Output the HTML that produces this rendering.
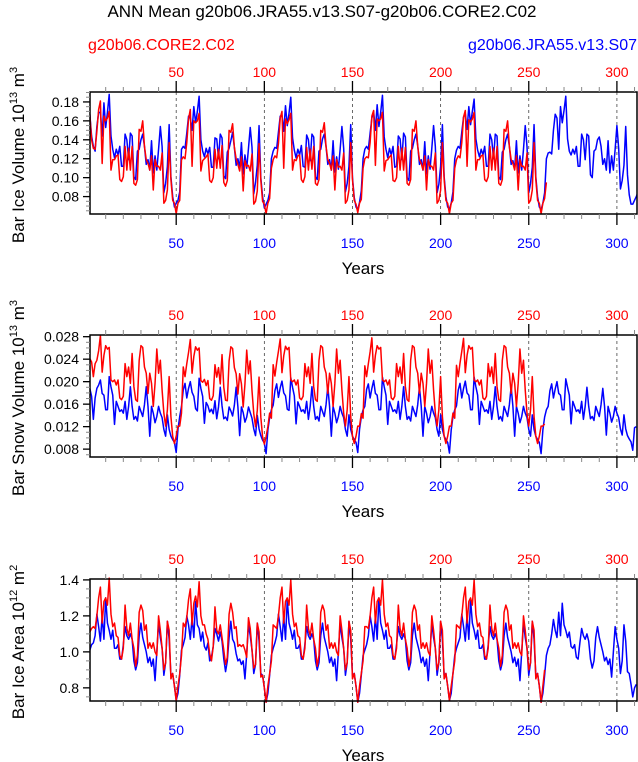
<!DOCTYPE html>
<html><head><meta charset="utf-8">
<style>
html,body{margin:0;padding:0;background:#fff;}
svg{display:block;font-family:"Liberation Sans",sans-serif;}
</style></head>
<body>
<svg id="chart" width="638" height="762" viewBox="0 0 638 762" xmlns="http://www.w3.org/2000/svg">
<text x="322" y="17" text-anchor="middle" font-size="17">ANN Mean g20b06.JRA55.v13.S07-g20b06.CORE2.C02</text>
<text x="88" y="50" font-size="16" fill="#ff0000">g20b06.CORE2.C02</text>
<text x="637" y="50" text-anchor="end" font-size="16" fill="#0000ff">g20b06.JRA55.v13.S07</text>
</svg>
<script>
// ---- data ----
const iceBlue = [
.167,.144,.133,.128,.154,.169,.169,.144,.179,.153,.169,.188,.144,.130,.121,.130,.124,.133,.112,.112,.146,.140,.119,.147,.144,.101,.098,.128,.130,.140,.146,.133,.114,.119,.108,.139,.105,.123,.108,.130,.154,.133,.084,.094,.112,.156,.101,.080,.069,.073,.076,
.085,.130,.133,.131,.147,.165,.163,.150,.175,.158,.170,.186,.140,.128,.122,.131,.125,.132,.111,.111,.142,.141,.120,.146,.142,.102,.099,.127,.131,.139,.148,.132,.113,.120,.110,.137,.104,.124,.110,.131,.153,.132,.083,.095,.113,.155,.100,.080,.068,.072,.076,.084,.120,
.128,.132,.131,.148,.165,.166,.149,.176,.155,.168,.185,.142,.129,.121,.130,.124,.134,.112,.111,.145,.140,.118,.146,.143,.101,.098,.128,.130,.141,.146,.133,.114,.119,.108,.139,.106,.122,.109,.130,.154,.131,.085,.094,.112,.156,.100,.079,.069,.066,.074,.086,.120,
.130,.133,.130,.147,.163,.170,.150,.177,.154,.169,.187,.143,.130,.121,.131,.124,.133,.111,.112,.144,.141,.119,.147,.143,.100,.097,.128,.131,.140,.146,.134,.114,.119,.108,.138,.104,.123,.109,.131,.155,.133,.084,.093,.112,.156,.101,.080,.069,.067,.073,.085,.120,
.129,.133,.131,.148,.164,.168,.151,.175,.156,.170,.183,.141,.129,.122,.130,.124,.133,.112,.112,.146,.140,.120,.146,.144,.101,.098,.127,.130,.140,.146,.133,.114,.118,.109,.139,.105,.123,.108,.130,.155,.133,.084,.094,.111,.156,.101,.080,.069,.066,.073,.084,.120,
.126,.127,.125,.150,.167,.163,.130,.175,.158,.171,.186,.141,.128,.124,.130,.125,.133,.112,.112,.146,.140,.119,.146,.144,.103,.100,.128,.130,.140,.143,.133,.114,.120,.108,.139,.105,.123,.108,.130,.155,.131,.088,.097,.113,.154,.103,.082,.072,.072,.076,.080,.085
];
const iceRed = [
.167,.140,.131,.130,.149,.172,.181,.115,.165,.160,.163,.170,.108,.119,.119,.123,.124,.098,.096,.101,.133,.108,.131,.108,.133,.094,.092,.098,.151,.149,.160,.133,.119,.115,.108,.123,.087,.119,.112,.112,.108,.126,.073,.076,.087,.137,.098,.076,.073,.062,.073,
.076,.119,.122,.120,.137,.162,.172,.112,.160,.158,.160,.168,.107,.118,.120,.122,.125,.097,.095,.100,.130,.110,.130,.110,.134,.095,.091,.097,.150,.148,.157,.132,.120,.114,.107,.122,.086,.118,.112,.113,.107,.125,.072,.075,.086,.136,.097,.075,.072,.062,.073,.078,.110,
.119,.123,.121,.136,.163,.170,.110,.162,.157,.161,.168,.108,.119,.118,.123,.124,.098,.095,.101,.132,.108,.130,.109,.133,.094,.092,.098,.150,.148,.158,.133,.119,.115,.108,.123,.087,.119,.111,.112,.108,.126,.073,.076,.087,.137,.098,.076,.072,.063,.073,.077,.110,
.120,.122,.121,.137,.165,.171,.113,.162,.160,.162,.169,.107,.118,.119,.122,.124,.097,.096,.100,.133,.108,.131,.108,.132,.094,.092,.098,.151,.149,.160,.133,.119,.115,.108,.123,.087,.119,.112,.112,.108,.126,.073,.076,.087,.137,.098,.076,.073,.062,.073,.076,.110,
.119,.123,.121,.137,.164,.171,.112,.161,.159,.162,.169,.108,.119,.119,.123,.124,.098,.096,.101,.133,.108,.131,.108,.133,.094,.092,.098,.151,.149,.160,.133,.119,.115,.108,.123,.087,.119,.112,.112,.108,.126,.073,.076,.087,.137,.098,.076,.073,.062,.073,.078,.095
];
const snowBlue = [
.0188,.0174,.0133,.0171,.0188,.0194,.0203,.0179,.0176,.0150,.0150,.0209,.0191,.0176,.0124,.0165,.0156,.0147,.0150,.0144,.0165,.0133,.0156,.0191,.0156,.0133,.0138,.0130,.0156,.0147,.0138,.0159,.0191,.0156,.0103,.0156,.0144,.0127,.0138,.0156,.0144,.0136,.0115,.0103,.0141,.0115,.0103,.0097,.0092,.0074,.0115,
.0138,.0156,.0185,.0197,.0171,.0188,.0200,.0181,.0174,.0152,.0148,.0206,.0188,.0174,.0126,.0163,.0157,.0146,.0151,.0143,.0166,.0134,.0155,.0190,.0157,.0134,.0137,.0131,.0155,.0148,.0139,.0158,.0190,.0155,.0104,.0155,.0145,.0128,.0137,.0155,.0145,.0135,.0116,.0104,.0140,.0116,.0104,.0096,.0091,.0072,.0114,.0136,.0150,
.0158,.0184,.0196,.0172,.0189,.0201,.0180,.0175,.0151,.0149,.0207,.0190,.0175,.0125,.0164,.0156,.0147,.0150,.0144,.0165,.0133,.0156,.0191,.0156,.0133,.0138,.0130,.0156,.0147,.0138,.0159,.0191,.0156,.0103,.0156,.0144,.0127,.0138,.0156,.0144,.0136,.0115,.0103,.0141,.0115,.0103,.0097,.0092,.0074,.0115,.0137,.0150,
.0156,.0186,.0196,.0171,.0188,.0202,.0179,.0176,.0150,.0150,.0208,.0191,.0176,.0124,.0165,.0156,.0147,.0150,.0144,.0165,.0133,.0156,.0191,.0156,.0133,.0138,.0130,.0156,.0147,.0138,.0159,.0191,.0156,.0103,.0156,.0144,.0127,.0138,.0156,.0144,.0136,.0115,.0103,.0141,.0115,.0103,.0097,.0092,.0073,.0114,.0138,.0150,
.0157,.0185,.0197,.0171,.0188,.0201,.0180,.0176,.0150,.0150,.0208,.0191,.0176,.0124,.0165,.0156,.0147,.0150,.0144,.0165,.0133,.0156,.0191,.0156,.0133,.0138,.0130,.0156,.0147,.0138,.0159,.0191,.0156,.0103,.0156,.0144,.0127,.0138,.0156,.0144,.0136,.0115,.0103,.0141,.0115,.0103,.0097,.0092,.0072,.0114,.0137,.0150,
.0156,.0184,.0196,.0171,.0187,.0200,.0179,.0176,.0150,.0150,.0205,.0190,.0176,.0125,.0165,.0156,.0147,.0150,.0144,.0165,.0133,.0156,.0190,.0156,.0134,.0138,.0131,.0156,.0147,.0138,.0159,.0188,.0156,.0105,.0156,.0144,.0128,.0138,.0156,.0144,.0136,.0116,.0105,.0141,.0116,.0104,.0098,.0093,.0078,.0118,.0120
];
const snowRed = [
.0241,.0235,.0209,.0232,.0238,.0255,.0282,.0217,.0247,.0264,.0258,.0261,.0203,.0200,.0203,.0194,.0203,.0171,.0168,.0174,.0232,.0209,.0226,.0197,.0250,.0191,.0168,.0165,.0238,.0264,.0261,.0226,.0215,.0179,.0215,.0197,.0156,.0197,.0258,.0215,.0238,.0185,.0144,.0121,.0150,.0209,.0138,.0103,.0090,.0103,.0121,
.0121,.0144,.0226,.0209,.0232,.0252,.0275,.0215,.0245,.0262,.0256,.0260,.0202,.0199,.0204,.0193,.0202,.0170,.0167,.0175,.0230,.0208,.0225,.0196,.0248,.0190,.0167,.0166,.0237,.0262,.0259,.0225,.0214,.0178,.0214,.0196,.0155,.0196,.0256,.0214,.0237,.0184,.0143,.0120,.0149,.0208,.0137,.0102,.0089,.0102,.0120,.0144,.0135,
.0230,.0210,.0234,.0254,.0276,.0216,.0246,.0263,.0257,.0261,.0203,.0200,.0203,.0194,.0203,.0171,.0168,.0174,.0232,.0209,.0226,.0197,.0250,.0191,.0168,.0165,.0238,.0264,.0261,.0226,.0215,.0179,.0215,.0197,.0156,.0197,.0258,.0215,.0238,.0185,.0144,.0121,.0150,.0209,.0138,.0103,.0090,.0103,.0121,.0121,.0143,.0135,
.0228,.0209,.0232,.0253,.0278,.0217,.0247,.0264,.0258,.0261,.0203,.0200,.0203,.0194,.0203,.0171,.0168,.0174,.0232,.0209,.0226,.0197,.0250,.0191,.0168,.0165,.0238,.0264,.0261,.0226,.0215,.0179,.0215,.0197,.0156,.0197,.0258,.0215,.0238,.0185,.0144,.0121,.0150,.0209,.0138,.0103,.0090,.0103,.0121,.0121,.0144,.0135,
.0229,.0209,.0233,.0254,.0277,.0216,.0247,.0264,.0258,.0261,.0203,.0200,.0203,.0194,.0203,.0171,.0168,.0174,.0232,.0209,.0226,.0197,.0250,.0191,.0168,.0165,.0238,.0264,.0261,.0226,.0215,.0179,.0215,.0197,.0156,.0197,.0258,.0215,.0238,.0185,.0144,.0121,.0150,.0209,.0138,.0103,.0090,.0103,.0121,.0121,.0125
];
const areaBlue = [
1.01,1.04,1.05,1.09,1.21,1.14,1.06,1.20,1.07,1.30,1.16,1.12,1.07,1.12,1.02,1.02,1.04,0.96,0.96,1.04,1.14,1.09,1.07,1.10,1.07,0.95,0.90,0.94,1.09,1.16,1.08,1.04,1.00,0.94,0.97,0.92,0.96,0.84,1.00,1.16,1.08,1.02,0.87,0.94,1.17,1.07,0.87,0.88,0.81,0.73,0.77,
0.87,1.01,1.04,1.08,1.20,1.15,1.07,1.19,1.08,1.28,1.15,1.13,1.06,1.11,1.03,1.01,1.05,0.95,0.97,1.03,1.13,1.10,1.06,1.11,1.06,0.96,0.89,0.95,1.08,1.17,1.07,1.05,0.99,0.95,0.96,0.93,0.95,0.85,0.99,1.15,1.09,1.01,0.88,0.93,1.16,1.06,0.88,0.87,0.80,0.72,0.77,0.87,0.98,
1.02,1.05,1.09,1.21,1.14,1.06,1.20,1.07,1.29,1.16,1.12,1.07,1.12,1.02,1.02,1.04,0.96,0.96,1.04,1.14,1.09,1.07,1.10,1.07,0.95,0.90,0.94,1.09,1.16,1.08,1.04,1.00,0.94,0.97,0.92,0.96,0.84,1.00,1.16,1.08,1.02,0.87,0.94,1.17,1.07,0.87,0.88,0.81,0.72,0.77,0.87,0.98,
1.01,1.04,1.09,1.20,1.14,1.06,1.20,1.07,1.30,1.16,1.12,1.07,1.12,1.02,1.02,1.04,0.96,0.96,1.04,1.14,1.09,1.07,1.10,1.07,0.95,0.90,0.94,1.09,1.16,1.08,1.04,1.00,0.94,0.97,0.92,0.96,0.84,1.00,1.16,1.08,1.02,0.87,0.94,1.17,1.07,0.87,0.88,0.81,0.73,0.77,0.88,0.98,
1.02,1.05,1.08,1.21,1.14,1.06,1.20,1.07,1.29,1.16,1.12,1.07,1.12,1.02,1.02,1.04,0.96,0.96,1.04,1.14,1.09,1.07,1.10,1.07,0.95,0.90,0.94,1.09,1.16,1.08,1.04,1.00,0.94,0.97,0.92,0.96,0.84,1.00,1.16,1.08,1.02,0.87,0.94,1.17,1.07,0.87,0.88,0.81,0.72,0.77,0.87,0.98,
1.02,1.04,1.10,1.18,1.12,1.08,1.22,1.09,1.27,1.15,1.12,1.08,1.11,1.03,1.02,1.04,0.97,0.96,1.05,1.13,1.09,1.07,1.10,1.06,0.96,0.91,0.95,1.08,1.14,1.08,1.04,1.00,0.95,0.97,0.93,0.96,0.86,1.00,1.14,1.07,1.02,0.88,0.95,1.15,1.06,0.89,0.88,0.82,0.75,0.80,0.82
];
const areaRed = [
1.11,1.13,1.14,1.13,1.20,1.30,1.36,1.16,1.28,1.30,1.26,1.41,1.21,1.14,1.16,1.09,1.08,0.98,0.96,1.02,1.26,1.13,1.09,1.16,1.07,1.02,0.92,0.98,1.22,1.26,1.23,1.12,1.15,1.02,1.05,1.02,1.05,1.00,0.98,1.20,1.12,1.02,0.90,0.94,1.17,1.12,0.85,0.88,0.81,0.73,0.81,
0.88,0.98,1.16,1.14,1.19,1.29,1.35,1.15,1.27,1.31,1.25,1.39,1.20,1.15,1.15,1.10,1.07,0.99,0.95,1.03,1.25,1.12,1.10,1.15,1.08,1.01,0.93,0.97,1.21,1.27,1.22,1.13,1.14,1.03,1.04,1.03,1.04,1.01,0.97,1.19,1.13,1.01,0.91,0.93,1.16,1.11,0.86,0.87,0.80,0.72,0.81,0.88,0.95,
1.15,1.14,1.13,1.20,1.30,1.36,1.16,1.28,1.30,1.26,1.40,1.21,1.14,1.16,1.09,1.08,0.98,0.96,1.02,1.26,1.13,1.09,1.16,1.07,1.02,0.92,0.98,1.22,1.26,1.23,1.12,1.15,1.02,1.05,1.02,1.05,1.00,0.98,1.20,1.12,1.02,0.90,0.94,1.17,1.12,0.85,0.88,0.81,0.72,0.81,0.88,0.95,
1.14,1.14,1.13,1.20,1.30,1.36,1.16,1.28,1.30,1.26,1.40,1.21,1.14,1.16,1.09,1.08,0.98,0.96,1.02,1.26,1.13,1.09,1.16,1.07,1.02,0.92,0.98,1.22,1.26,1.23,1.12,1.15,1.02,1.05,1.02,1.05,1.00,0.98,1.20,1.12,1.02,0.90,0.94,1.17,1.12,0.85,0.88,0.81,0.73,0.81,0.88,0.95,
1.15,1.14,1.13,1.20,1.30,1.36,1.16,1.28,1.30,1.26,1.40,1.21,1.14,1.16,1.09,1.08,0.98,0.96,1.02,1.26,1.13,1.09,1.16,1.07,1.02,0.92,0.98,1.22,1.26,1.23,1.12,1.15,1.02,1.05,1.02,1.05,1.00,0.98,1.20,1.12,1.02,0.90,0.94,1.17,1.12,0.85,0.88,0.81,0.72,0.81,0.90
];
const xTicks = [50,100,150,200,250,300];
const iceTicks = [0.08,0.10,0.12,0.14,0.16,0.18];
const snowTicks = [0.008,0.012,0.016,0.020,0.024,0.028];
const areaTicks = [0.8,1.0,1.2,1.4];

// ---- layout ----
const NS = "http://www.w3.org/2000/svg";
const svg = document.getElementById('chart');
const X0 = 90, X1 = 637, XMIN = 1.1, XMAX = 311.4;
function xs(v){ return X0 + (v - XMIN) / (XMAX - XMIN) * (X1 - X0); }
function mk(tag, attrs, parent){
  const e = document.createElementNS(NS, tag);
  for (const k in attrs) e.setAttribute(k, attrs[k]);
  (parent || svg).appendChild(e);
  return e;
}
const clip = mk('clipPath', {id:'plotclip'});
mk('rect', {x:X0, y:0, width:X1-X0, height:762}, clip);

const panels = [
  {name:'ice-volume', top:92, bottom:214, ymin:0.0616, ymax:0.1905, ticks:iceTicks, minor:0.005, dec:2, blue:iceBlue, red:iceRed, t1:'Bar Ice Volume 10', sup:'13', t2:' m', sup2:'3'},
  {name:'snow-volume', top:335, bottom:457, ymin:0.0066, ymax:0.0283, ticks:snowTicks, minor:0.001, dec:3, blue:snowBlue, red:snowRed, t1:'Bar Snow Volume 10', sup:'13', t2:' m', sup2:'3'},
  {name:'ice-area', top:579, bottom:701, ymin:0.727, ymax:1.405, ticks:areaTicks, minor:0.05, dec:1, blue:areaBlue, red:areaRed, t1:'Bar Ice Area 10', sup:'12', t2:' m', sup2:'2'}
];

panels.forEach(p => {
  const g = mk('g', {});
  
  
  const ys = v => p.bottom - (v - p.ymin) / (p.ymax - p.ymin) * (p.bottom - p.top);

  xTicks.forEach(t => {
    const l = mk('line', {x1:xs(t), x2:xs(t), y1:p.top, y2:p.bottom, stroke:'#444', 'stroke-width':0.8, 'stroke-dasharray':'3,3'}, g);
    
    
  });

  [[p.blue,'#0000ff','jra55'],[p.red,'#ff0000','core2']].forEach(s => {
    const pts = s[0].map((v,i) => xs(i+1).toFixed(2) + ',' + ys(v).toFixed(2)).join(' ');
    const pl = mk('polyline', {points:pts, fill:'none', stroke:s[1], 'stroke-width':1.5, 'stroke-linejoin':'round', 'clip-path':'url(#plotclip)'}, g);
    
    
  });

  const fr = mk('rect', {x:X0, y:p.top, width:X1-X0, height:p.bottom-p.top, fill:'none', stroke:'#000', 'stroke-width':1.5}, g);
  
  

  for (let t = 10; t <= 310; t += 10) {
    if (t % 50 === 0) continue;
    mk('line', {x1:xs(t), x2:xs(t), y1:p.top, y2:p.top-5, stroke:'#888', 'stroke-width':1}, g);
    mk('line', {x1:xs(t), x2:xs(t), y1:p.bottom, y2:p.bottom+5, stroke:'#888', 'stroke-width':1}, g);
  }
  xTicks.forEach(t => {
    mk('line', {x1:xs(t), x2:xs(t), y1:p.top, y2:p.top-11, stroke:'#000', 'stroke-width':1.3}, g);
    mk('line', {x1:xs(t), x2:xs(t), y1:p.bottom, y2:p.bottom+11, stroke:'#000', 'stroke-width':1.3}, g);
    const tl = mk('text', {x:xs(t), y:p.top-15, 'text-anchor':'middle', 'font-size':14, fill:'#ff0000'}, g);
    tl.textContent = t;
    
    
    const bl = mk('text', {x:xs(t), y:p.bottom+34, 'text-anchor':'middle', 'font-size':14, fill:'#0000ff'}, g);
    bl.textContent = t;
    
    
  });

  const n0 = Math.ceil(p.ymin / p.minor - 1e-6), n1 = Math.floor(p.ymax / p.minor + 1e-6);
  for (let n = n0; n <= n1; n++) {
    mk('line', {x1:X0, x2:X0-4, y1:ys(n*p.minor), y2:ys(n*p.minor), stroke:'#888', 'stroke-width':1}, g);
  }
  p.ticks.forEach(t => {
    mk('line', {x1:X0, x2:X0-7, y1:ys(t), y2:ys(t), stroke:'#000', 'stroke-width':1.3}, g);
    const yl = mk('text', {x:X0-11, y:ys(t)+5, 'text-anchor':'end', 'font-size':14, fill:'#000'}, g);
    yl.textContent = t.toFixed(p.dec);
    
    
  });

  const xt = mk('text', {x:363, y:p.bottom+60, 'text-anchor':'middle', 'font-size':17, fill:'#000'}, g);
  xt.textContent = 'Years';
  
  

  const cy = (p.top + p.bottom) / 2 + 2;
  const yt = mk('text', {x:0, y:0, 'text-anchor':'middle', 'font-size':17, fill:'#000', transform:'translate(24,'+cy+') rotate(-90)'}, g);
  
  
  const a = mk('tspan', {}, yt); a.textContent = p.t1;
  const b = mk('tspan', {dy:-7, 'font-size':11}, yt); b.textContent = p.sup;
  const c = mk('tspan', {dy:7}, yt); c.textContent = p.t2;
  const d = mk('tspan', {dy:-7, 'font-size':11}, yt); d.textContent = p.sup2;
});
</script>
</body></html>
